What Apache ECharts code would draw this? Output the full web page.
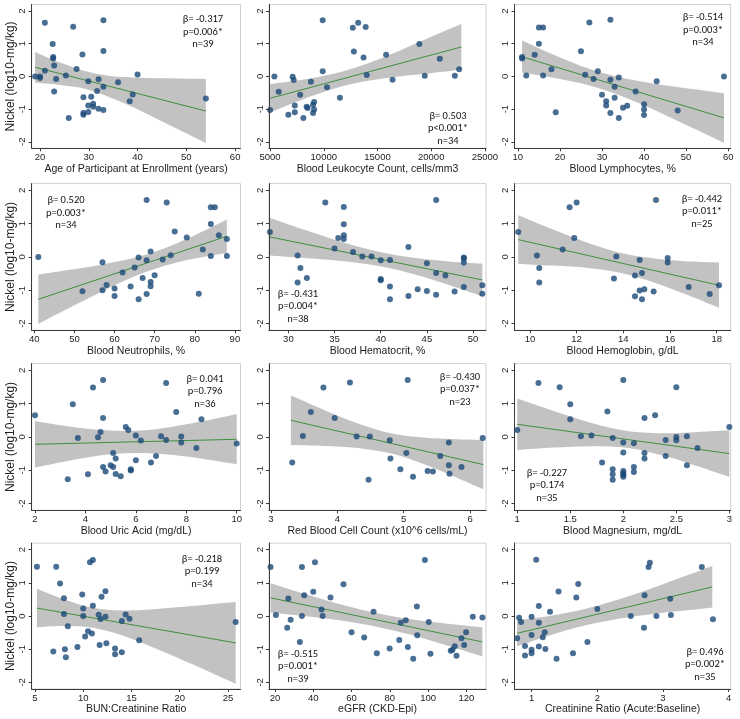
<!DOCTYPE html>
<html><head><meta charset="utf-8">
<script src="https://cdn.jsdelivr.net/npm/echarts@6/dist/echarts.min.js"></script>
<style>html,body{margin:0;padding:0;background:#fff}#c{width:740px;height:719px}</style>
</head><body><div id="c"></div>
<script>
// ---------- DATA ----------
const xTitles = ["Age of Participant at Enrollment (years)","Blood Leukocyte Count, cells/mm3","Blood Lymphocytes, %",
  "Blood Neutrophils, %","Blood Hematocrit, %","Blood Hemoglobin, g/dL",
  "Blood Uric Acid (mg/dL)","Red Blood Cell Count (x10^6 cells/mL)","Blood Magnesium, mg/dL",
  "BUN:Creatinine Ratio","eGFR (CKD-Epi)","Creatinine Ratio (Acute:Baseline)"];
const yTitle = "Nickel (log10-mg/kg)";
const betaText = ["β= -0.317","β= 0.503","β= -0.514","β= 0.520","β= -0.431","β= -0.442","β= 0.041","β= -0.430","β= -0.227","β= -0.218","β= -0.515","β= 0.496"];
const pText = ["p=0.006*","p<0.001*","p=0.003*","p=0.003*","p=0.004*","p=0.011*","p=0.796","p=0.037*","p=0.174","p=0.199","p=0.001*","p=0.002*"];
const nText = ["n=39","n=34","n=34","n=34","n=38","n=25","n=36","n=23","n=35","n=34","n=39","n=35"];
const yTicks = [-2,-1,0,1,2];

// 1 Age
const ageX = [19,20,20,21,21,22.6,22.7,22.7,22.9,22.9,23.3,25.3,25.9,26.8,27.5,28.7,28.9,28.9,28.9,29.9,29.9,29.9,30.5,30.9,30.9,31.7,32,32,33,33,33,33,36,38.4,39,40,54];
const ageNi = [0,0,-0.05,1.64,0.17,0.99,0.55,0.59,0.33,-0.46,-0.08,0.03,-1.27,1.52,0.23,0.67,-0.64,-1.12,-1.17,-0.15,-0.89,-1.09,-0.62,-0.84,-0.93,-0.45,-0.09,-0.99,1.72,0.78,-0.32,-1.03,-0.18,-0.76,-0.55,0.06,-0.68];
const ageFitX = [19,54], ageFitY = [0.28,-1.06];
const ageBandX = [19,24,29,34,39,46,54], ageBandLo = [-0.19,-0.26,-0.37,-0.62,-0.94,-1.45,-2.04], ageBandHi = [0.75,0.43,0.17,0.02,-0.03,-0.06,-0.08];
const ageTicks = [20,30,40,50,60];
// 2 Leukocytes
const wbcX = [5000,5400,5800,6700,7100,7200,7300,7300,7800,8100,8400,8500,8800,9000,9000,9100,9100,9900,9900,10300,11500,12700,12800,13200,13700,13900,14000,15800,16400,18900,19400,20800,22200,22600];
const wbcNi = [-1.03,0,-0.47,-1.17,-0.01,-0.11,-0.89,-1.1,-0.56,-1.27,-0.93,-0.97,-0.16,-1.12,-0.87,-0.78,-1.01,1.72,0.16,-0.33,-0.65,1.49,0.76,1.64,0.58,1.51,0.04,0.66,-0.1,0.99,0.02,0.54,0.02,0.22];
const wbcFitX = [5000,22800], wbcFitY = [-0.67,0.9];
const wbcBandX = [5000,8000,11000,14000,17000,20000,22800], wbcBandLo = [-1.11,-0.71,-0.37,-0.14,0.0,0.10,0.2], wbcBandHi = [-0.23,-0.10,0.09,0.39,0.78,1.21,1.6];
const wbcTicks = [5000,10000,15000,20000,25000];
// 3 Lymphocytes
const lymX = [11,11,12,14,15,15,16,16,18,19,25,26,27,28,29,30,31,31,32,32,32,33,33,34,34,35,36,38,40,40,40,43,48,59];
const lymNi = [0.59,0.55,0.03,0.66,1.5,1.0,1.5,0.03,0.22,-1.1,0.77,0.05,1.65,-0.08,0.16,-0.56,-0.76,-0.89,1.73,-0.1,-1.12,-0.32,-0.65,-0.03,-1.27,-0.96,-0.9,-0.46,-0.85,-1.01,-1.18,-0.15,-1.04,0.0];
const lymFitX = [11,59], lymFitY = [0.6,-1.27];
const lymBandX = [11,18,25,32,39,46,53,59], lymBandLo = [0.11,-0.03,-0.21,-0.48,-0.83,-1.24,-1.66,-2.03], lymBandHi = [1.1,0.69,0.32,0.04,-0.15,-0.29,-0.41,-0.52];
const lymTicks = [10,20,30,40,50,60];
// 4 Neutrophils
const neuX = [41,52,57,57,58,60,60,62,64,65,66,66,67,68,68,68,69,69,69,70,72,73,74,75,78,81,82,84,84,84,85,86,88,88];
const neuNi = [0,-1.03,-0.16,-1.0,-0.84,-0.95,-1.17,-0.47,-0.89,-0.32,-0.02,-1.27,-0.63,1.71,-0.1,-1.11,0.16,-0.75,-0.88,-0.55,-0.08,1.63,0.05,0.76,0.58,-1.1,0.22,1.49,0.99,0.03,1.49,0.65,0.54,0.03];
const neuFitX = [41,88], neuFitY = [-1.27,0.62];
const neuBandX = [41,48,55,62,69,76,83,88], neuBandLo = [-2.01,-1.57,-1.15,-0.74,-0.4,-0.15,0.02,0.12], neuBandHi = [-0.53,-0.4,-0.27,-0.11,0.11,0.43,0.82,1.12];
const neuTicks = [40,50,60,70,80,90];
// 5 Hematocrit
const hctX = [28,31,31,31.3,32,34,35,35.4,36,36,36,36,37,38,39,40,40,40,41,41,41,43,43,44,45,45,46,46,46,47,48,49,49,49,49,51,51];
const hctNi = [0.75,0.04,-0.77,-0.33,-0.63,1.63,0.25,0.57,1.5,0.98,0.65,0.54,0.15,0.01,0.01,-0.1,-0.66,-0.7,-0.09,-0.89,-1.27,0.3,-1.17,-0.97,-0.19,-1.02,1.71,-0.48,-1.13,-0.56,-1.04,-0.02,-0.05,-0.17,-0.9,-0.85,-1.1];
const hctFitX = [28,51], hctFitY = [0.6,-0.69];
const hctBandX = [28,32,36,40,44,48,51], hctBandLo = [0.04,-0.04,-0.13,-0.28,-0.55,-0.9,-1.18], hctBandHi = [1.17,0.79,0.43,0.14,-0.04,-0.15,-0.2];
const hctTicks = [30,35,40,45,50];
// 6 Hemoglobin
const hgbX = [9.5,10.3,10.4,10.4,11.4,11.7,11.9,12.0,13.6,13.7,14.5,14.5,14.7,14.7,14.8,14.8,14.9,15.3,15.4,15.9,15.9,16.8,17.7,18.1];
const hgbNi = [0.75,0.04,-0.33,-0.77,0.22,1.49,0.57,1.63,-0.65,0.01,-0.56,-1.18,-1.01,-0.09,-0.48,-1.27,-0.97,-1.04,1.71,-0.03,-0.17,-0.9,-1.11,-0.85];
const hgbFitX = [9.5,18.1], hgbFitY = [0.52,-0.85];
const hgbBandX = [9.5,11,12.5,14,15.5,17,18.1], hgbBandLo = [-0.21,-0.26,-0.33,-0.5,-0.81,-1.21,-1.53], hgbBandHi = [1.25,0.82,0.42,0.1,-0.06,-0.14,-0.17];
const hgbTicks = [10,12,14,16,18];
// 7 Uric acid
const uaX = [2.0,3.3,3.5,3.7,4.1,4.3,4.5,4.6,4.7,4.7,4.7,4.8,5.0,5.1,5.1,5.2,5.2,5.4,5.6,5.7,5.8,5.8,6.0,6.0,6.2,6.6,6.8,7.0,7.2,7.2,7.6,7.8,7.8,8.4,8.6,10.0];
const uaNi = [0.65,-1.27,0.98,-0.03,-1.12,1.48,-0.01,0.15,1.71,0.57,-0.9,-1.04,-0.85,-0.48,-0.9,-0.65,-1.11,-1.18,0.3,0.21,-0.97,-1.01,0.04,-0.7,-0.11,-0.77,-0.57,0.02,1.62,-0.09,0.75,0.01,-0.17,-0.33,0.53,-0.2];
const uaFitX = [2,10], uaFitY = [-0.22,-0.07];
const uaBandX = [2,3.5,5,6.5,8,10], uaBandLo = [-0.92,-0.69,-0.52,-0.49,-0.59,-0.82], uaBandHi = [0.48,0.3,0.19,0.21,0.38,0.68];
const uaTicks = [2,4,6,8,10];
// 8 RBC
const rbcX = [3.32,3.48,3.6,3.79,3.96,4.19,4.29,4.49,4.47,4.79,4.8,4.95,5.04,5.06,5.14,5.36,5.44,5.55,5.68,5.68,5.69,5.87,6.19];
const rbcNi = [-0.77,0.03,0.75,1.48,0.57,1.63,0.01,0.01,-1.28,-0.1,-0.65,-0.97,-0.48,1.71,-1.19,-1.02,-1.04,-0.57,-0.17,-0.85,-1.1,-0.9,-0.03];
const rbcFitX = [3.3,6.2], rbcFitY = [0.5,-0.83];
const rbcBandX = [3.3,3.8,4.3,4.8,5.3,5.8,6.2], rbcBandLo = [-0.24,-0.27,-0.33,-0.49,-0.81,-1.22,-1.57], rbcBandHi = [1.24,0.81,0.41,0.11,-0.02,-0.07,-0.09];
const rbcTicks = [3,4,5,6];
// 9 Magnesium
const mgX = [1.0,1.2,1.4,1.5,1.5,1.6,1.7,1.8,1.85,1.9,1.9,1.9,1.9,2.0,2.0,2.0,2.0,2.0,2.0,2.0,2.1,2.1,2.1,2.2,2.2,2.2,2.3,2.4,2.4,2.5,2.5,2.5,2.6,2.6,2.7,3.0];
const mgNi = [0.21,1.62,1.49,0.98,0.53,0.02,0.04,-0.77,0.76,-0.03,-0.97,-1.12,-1.28,1.71,-0.17,-0.47,-1.02,-1.09,-1.14,-1.19,-0.19,-0.9,-1.05,0.57,-0.48,-0.65,0.65,-0.09,-0.57,1.49,0.0,-0.1,0.02,-0.85,-0.33,0.3];
const mgFitX = [1,3], mgFitY = [0.38,-0.5];
const mgBandX = [1,1.35,1.7,2.05,2.4,2.7,3], mgBandLo = [-0.39,-0.32,-0.28,-0.33,-0.58,-0.88,-1.2], mgBandHi = [1.15,0.77,0.42,0.17,0.11,0.15,0.2];
const mgTicks = [1,1.5,2,2.5,3];
// 10 BUN:Creatinine
const bunX = [5.2,6.9,7.2,7.6,8.0,8.0,8.1,8.2,8.4,9.4,9.9,10.0,10.0,10.2,10.5,10.7,10.9,11.0,11.0,11.6,11.7,11.8,11.9,12.3,12.3,12.4,13.3,13.3,14.0,14.0,14.4,14.8,15.8,25.8];
const bunNi = [1.49,-1.07,1.49,0.98,0.54,0.06,-1.0,-1.24,-0.31,-0.93,0.65,0.23,0.0,-0.62,-0.46,1.62,-0.53,1.69,0.31,0.04,-0.87,-0.09,0.58,0.75,-0.02,-0.82,-0.98,-1.15,-0.15,-1.09,0.05,-0.08,-0.73,-0.18];
const bunFitX = [5.2,25.8], bunFitY = [0.24,-0.81];
const bunBandX = [5.2,8,11,14,17,20,23,25.8], bunBandLo = [-0.34,-0.3,-0.35,-0.58,-0.92,-1.29,-1.67,-2.04], bunBandHi = [0.82,0.5,0.25,0.17,0.2,0.27,0.35,0.42];
const bunTicks = [5,10,15,20,25];
// 11 eGFR
const gfrX = [17.7,20.5,26.4,27,28.2,33,34.1,34.1,35.3,40,40.9,44.3,44.9,49,55.8,60,66.6,71.5,73.2,79.9,84.9,85.7,88.3,89.4,92.2,94.1,94.3,98.3,100.3,101.2,111.8,112.7,113.9,114.8,117.4,118.8,119.8,123.3,128.3];
const gfrNi = [1.48,0.03,-0.35,0.53,-0.11,-0.78,1.48,0.0,0.63,0.73,1.62,0.2,0.0,0.56,0.96,-0.49,-0.65,0.13,-1.12,-0.98,-0.72,-0.2,-0.13,-0.93,-1.29,0.29,-0.58,1.69,-0.18,-1.14,-1.05,-1.02,-0.91,-1.2,-0.67,-0.87,-0.49,-0.02,-0.04];
const gfrFitX = [17.7,128.3], gfrFitY = [0.55,-0.78];
const gfrBandX = [17.7,35,55,73,90,110,128.3], gfrBandLo = [0.11,0.0,-0.14,-0.32,-0.55,-0.89,-1.22], gfrBandHi = [0.99,0.68,0.34,0.09,-0.09,-0.23,-0.34];
const gfrTicks = [20,40,60,80,100,120];
// 12 Creatinine ratio
const crX = [0.78,0.81,0.84,0.9,0.9,1.0,1.0,1.0,1.0,1.07,1.11,1.11,1.11,1.17,1.2,1.21,1.28,1.38,1.41,1.63,1.68,1.71,1.85,2.0,2.51,2.71,2.72,2.78,2.8,2.9,3.11,3.12,3.59,3.76];
const crNi = [-0.67,-0.05,-0.18,-0.9,-1.19,-0.02,-0.57,-1.02,-1.12,1.7,0.3,-0.2,-0.92,-0.64,-0.49,-0.99,0.13,-1.29,0.74,-1.12,0.56,0.97,-0.78,0.21,0.0,-0.35,0.63,1.48,1.61,0.0,0.52,0.03,1.48,-0.1];
const crFitX = [0.78,3.75], crFitY = [-0.52,0.88];
const crBandX = [0.78,1.2,1.6,2.0,2.5,3.0,3.4,3.75], crBandLo = [-0.91,-0.63,-0.39,-0.2,-0.03,0.1,0.18,0.26], crBandHi = [-0.13,-0.02,0.12,0.31,0.61,0.96,1.25,1.51];
const crTicks = [1,2,3,4];

// ---------- LAYOUT / STYLE ----------
const panels = [
  {x:ageX,y:ageNi,fx:ageFitX,fy:ageFitY,bx:ageBandX,lo:ageBandLo,hi:ageBandHi,t:ageTicks,min:18.3,max:61.1,sx:203,sy:19.5},
  {x:wbcX,y:wbcNi,fx:wbcFitX,fy:wbcFitY,bx:wbcBandX,lo:wbcBandLo,hi:wbcBandHi,t:wbcTicks,min:4900,max:25100,sx:448,sy:116},
  {x:lymX,y:lymNi,fx:lymFitX,fy:lymFitY,bx:lymBandX,lo:lymBandLo,hi:lymBandHi,t:lymTicks,min:9.2,max:60.6,sx:703,sy:17.5},
  {x:neuX,y:neuNi,fx:neuFitX,fy:neuFitY,bx:neuBandX,lo:neuBandLo,hi:neuBandHi,t:neuTicks,min:39.35,max:91.4,sx:66,sy:200.5},
  {x:hctX,y:hctNi,fx:hctFitX,fy:hctFitY,bx:hctBandX,lo:hctBandLo,hi:hctBandHi,t:hctTicks,min:27.9,max:51.4,sx:298,sy:294},
  {x:hgbX,y:hgbNi,fx:hgbFitX,fy:hgbFitY,bx:hgbBandX,lo:hgbBandLo,hi:hgbBandHi,t:hgbTicks,min:9.34,max:18.6,sx:702,sy:199},
  {x:uaX,y:uaNi,fx:uaFitX,fy:uaFitY,bx:uaBandX,lo:uaBandLo,hi:uaBandHi,t:uaTicks,min:1.87,max:10.15,sx:205,sy:379},
  {x:rbcX,y:rbcNi,fx:rbcFitX,fy:rbcFitY,bx:rbcBandX,lo:rbcBandLo,hi:rbcBandHi,t:rbcTicks,min:2.97,max:6.24,sx:460,sy:377},
  {x:mgX,y:mgNi,fx:mgFitX,fy:mgFitY,bx:mgBandX,lo:mgBandLo,hi:mgBandHi,t:mgTicks,min:0.974,max:3.013,sx:547,sy:473},
  {x:bunX,y:bunNi,fx:bunFitX,fy:bunFitY,bx:bunBandX,lo:bunBandLo,hi:bunBandHi,t:bunTicks,min:4.66,max:26.3,sx:202,sy:559},
  {x:gfrX,y:gfrNi,fx:gfrFitX,fy:gfrFitY,bx:gfrBandX,lo:gfrBandLo,hi:gfrBandHi,t:gfrTicks,min:16.9,max:130.2,sx:298,sy:654},
  {x:crX,y:crNi,fx:crFitX,fy:crFitY,bx:crBandX,lo:crBandLo,hi:crBandHi,t:crTicks,min:0.74,max:4.03,sx:705,sy:652}
];
const colL = [31.7, 269, 514.5], colW = [208.8, 217, 216.2];
const rowT = [4.5, 183.6, 363.6, 543.1], rowH = [143.8, 146.7, 146.7, 145.9];
const FONT = "'Liberation Sans', Arial, sans-serif";
const STATFONT = "Carlito, Lato, 'Liberation Sans', sans-serif";
const AX = '#3a3a3a', TXT = '#222';

// smooth curve (Catmull-Rom as cubic Bezier) through pixel points, continuing an open path
function curveThrough(pts) {
  let d = '';
  for (let i = 0; i < pts.length - 1; i++) {
    const p0 = pts[i - 1] || pts[i], p1 = pts[i], p2 = pts[i + 1], p3 = pts[i + 2] || pts[i + 1];
    const c1 = [p1[0] + (p2[0] - p0[0]) / 6, p1[1] + (p2[1] - p0[1]) / 6];
    const c2 = [p2[0] - (p3[0] - p1[0]) / 6, p2[1] - (p3[1] - p1[1]) / 6];
    d += ` C ${c1[0]} ${c1[1]} ${c2[0]} ${c2[1]} ${p2[0]} ${p2[1]}`;
  }
  return d;
}

const grid = [], xAxis = [], yAxis = [], series = [], graphic = [];
panels.forEach((p, i) => {
  const r = Math.floor(i / 3), c = i % 3;
  grid.push({left: colL[c], top: rowT[r], width: colW[c], height: rowH[r], show: true, borderColor: '#cfcfcf', borderWidth: 1, backgroundColor: 'rgba(0,0,0,0)'});
  xAxis.push({
    gridIndex: i, type: 'value', min: p.min, max: p.max, z: 10,
    axisLine: {show: true, onZero: false, lineStyle: {color: AX, width: 1}},
    axisTick: {show: true, length: 3, customValues: p.t, lineStyle: {color: AX}},
    axisLabel: {customValues: p.t, margin: 4, fontSize: 9.5, color: TXT, fontFamily: FONT, formatter: v => String(v)},
    splitLine: {show: false},
    name: xTitles[i], nameLocation: 'middle', nameGap: 13,
    nameTextStyle: {fontSize: 10.5, color: TXT, fontFamily: FONT}
  });
  yAxis.push({
    gridIndex: i, type: 'value', min: -2.2, max: 2.2, z: 10,
    axisLine: {show: true, onZero: false, lineStyle: {color: AX, width: 1}},
    axisTick: {show: true, length: 3, customValues: yTicks, lineStyle: {color: AX}},
    axisLabel: {customValues: yTicks, rotate: 90, margin: 4, fontSize: 9.5, color: TXT, fontFamily: FONT},
    splitLine: {show: false},
    name: c === 0 ? yTitle : '', nameLocation: 'middle', nameGap: 12,
    nameTextStyle: {fontSize: 12, color: TXT, fontFamily: FONT}
  });
  const base = {xAxisIndex: i, yAxisIndex: i, silent: true, animation: false};
  // confidence band drawn as one filled region between the read upper and lower bounds
  series.push(Object.assign({}, base, {
    type: 'custom', z: 1,
    encode: {x: 0, y: [1, 2]},
    data: p.bx.map((x, k) => [x, p.lo[k], p.hi[k]]),
    renderItem: function (params, api) {
      if (params.dataIndex !== 0) return null;
      const up = p.bx.map((x, k) => api.coord([x, p.hi[k]]));
      const lo = p.bx.map((x, k) => api.coord([x, p.lo[k]])).reverse();
      const d = `M ${up[0][0]} ${up[0][1]}` + curveThrough(up) + ` L ${lo[0][0]} ${lo[0][1]}` + curveThrough(lo) + ' Z';
      return {type: 'path', shape: {pathData: d}, style: {fill: '#c2c2c2', stroke: null}};
    }
  }));
  series.push(Object.assign({}, base, {
    type: 'line', symbol: 'none', lineStyle: {color: '#3f8f3f', width: 1}, z: 3,
    data: p.fx.map((x, k) => [x, p.fy[k]])
  }));
  series.push(Object.assign({}, base, {
    type: 'scatter', symbolSize: 6, itemStyle: {color: '#1c4a78'}, z: 4,
    data: p.x.map((x, k) => [x, p.y[k]])
  }));
  [betaText[i], pText[i], nText[i]].forEach((t, k) => {
    graphic.push({type: 'text', x: p.sx, y: p.sy + k * 12.5, z: 10, silent: true,
      style: {text: t, fill: '#111', font: "10.5px " + STATFONT, align: 'center', verticalAlign: 'middle', textAlign: 'center', textVerticalAlign: 'middle'}});
  });
});

const chart = echarts.init(document.getElementById('c'), null, {renderer: 'canvas'});
chart.setOption({animation: false, backgroundColor: '#fff', grid, xAxis, yAxis, series, graphic});
</script>
</body></html>
